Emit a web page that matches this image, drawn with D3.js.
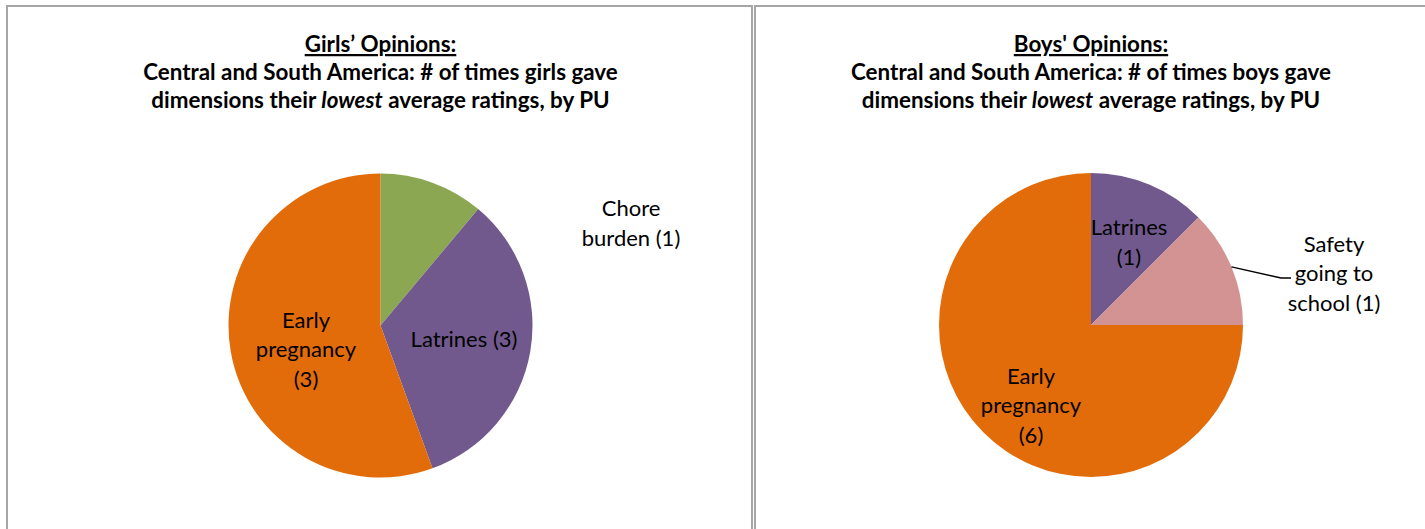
<!DOCTYPE html>
<html>
<head>
<meta charset="utf-8">
<script src="https://cdn.jsdelivr.net/npm/d3@7"></script>
<style>
  html, body { margin: 0; padding: 0; background: #fff; }
  svg { display: block; }
  text { font-family: Lato, "Open Sans", sans-serif; fill: #000; }
</style>
</head>
<body>
<svg id="chart" width="1425" height="529"></svg>
<script>
// ---------- DATA ----------
const girlsTitle = ["Girls\u2019 Opinions:", "Central and South America: # of times girls gave", "dimensions their |lowest| average ratings, by PU"];
const girlsCategories = ["Chore burden", "Latrines", "Early pregnancy"];
const girlsValues = [1, 3, 5];
const girlsLabels = [["Chore", "burden (1)"], ["Latrines (3)"], ["Early", "pregnancy", "(3)"]];

const boysTitle = ["Boys' Opinions:", "Central and South America: # of times boys gave", "dimensions their |lowest| average ratings, by PU"];
const boysCategories = ["Latrines", "Safety going to school", "Early pregnancy"];
const boysValues = [1, 1, 6];
const boysLabels = [["Latrines", "(1)"], ["Safety", "going to", "school (1)"], ["Early", "pregnancy", "(6)"]];

// ---------- STYLE / LAYOUT ----------
const colorMap = {
  "Chore burden": "#8BA752",
  "Latrines": "#71598E",
  "Early pregnancy": "#E36C0A",
  "Safety going to school": "#D39392"
};
const svg = d3.select("#chart");
const R = 152;
const lineH = 29.5;

function drawPanel(cfg) {
  const g = svg.append("g");
  // panel border
  g.append("rect")
    .attr("x", cfg.x0).attr("y", 6)
    .attr("width", cfg.w).attr("height", 600)
    .attr("fill", "none").attr("stroke", "#a6a6a6").attr("stroke-width", 2);

  // title
  const t = g.append("text").attr("text-anchor", "middle")
    .attr("font-weight", "bold").attr("font-size", 22.4);
  cfg.title.forEach((line, i) => {
    const ts = t.append("tspan").attr("x", cfg.cx).attr("y", 52 + i * 28);
    if (i === 0) {
      ts.text(line).attr("text-decoration", "underline");
    } else {
      const parts = line.split("|");
      parts.forEach((p, j) => {
        const s = (j === 0 ? ts : t.append("tspan")).text(p);
        if (j === 1) s.attr("font-style", "italic");
      });
    }
  });

  // pie
  const pie = d3.pie().sort(null).value(d => d.v);
  const arc = d3.arc().innerRadius(0).outerRadius(R);
  const data = cfg.cats.map((c, i) => ({ c, v: cfg.vals[i], lab: cfg.labels[i], off: cfg.offsets[i] }));
  const arcs = pie(data);
  const pg = g.append("g").attr("transform", `translate(${cfg.cx},${cfg.cy})`);
  pg.selectAll("path").data(arcs).join("path")
    .attr("d", arc)
    .attr("fill", d => colorMap[d.data.c]);

  // leader lines
  arcs.forEach(a => {
    if (!a.data.off.leader) return;
    const mid = (a.startAngle + a.endAngle) / 2;
    const p0 = [Math.sin(mid) * R, -Math.cos(mid) * R];
    const ld = a.data.off.leader;
    pg.append("polyline")
      .attr("points", [p0, ld[0], ld[1]].map(p => p.join(",")).join(" "))
      .attr("fill", "none").attr("stroke", "#000").attr("stroke-width", 1.3);
  });

  // labels
  arcs.forEach(a => {
    const o = a.data.off;
    const n = a.data.lab.length;
    const txt = pg.append("text").attr("text-anchor", "middle").attr("font-size", 22);
    a.data.lab.forEach((line, i) => {
      txt.append("tspan").attr("x", o.x)
        .attr("y", o.y + (i - (n - 1) / 2) * lineH + 8)
        .text(line);
    });
  });
}

drawPanel({
  x0: 7, w: 745, cx: 380.5, cy: 325.5,
  title: girlsTitle, cats: girlsCategories, vals: girlsValues, labels: girlsLabels,
  offsets: [{ x: 250.5, y: -102.5 }, { x: 83.5, y: 13.5 }, { x: -74.5, y: 23.5 }]
});
drawPanel({
  x0: 755, w: 700, cx: 1091, cy: 325,
  title: boysTitle, cats: boysCategories, vals: boysValues, labels: boysLabels,
  offsets: [{ x: 38, y: -83 }, { x: 243, y: -52, leader: [[190, -47], [200, -47]] }, { x: -60, y: 80 }]
});
</script>
</body>
</html>
